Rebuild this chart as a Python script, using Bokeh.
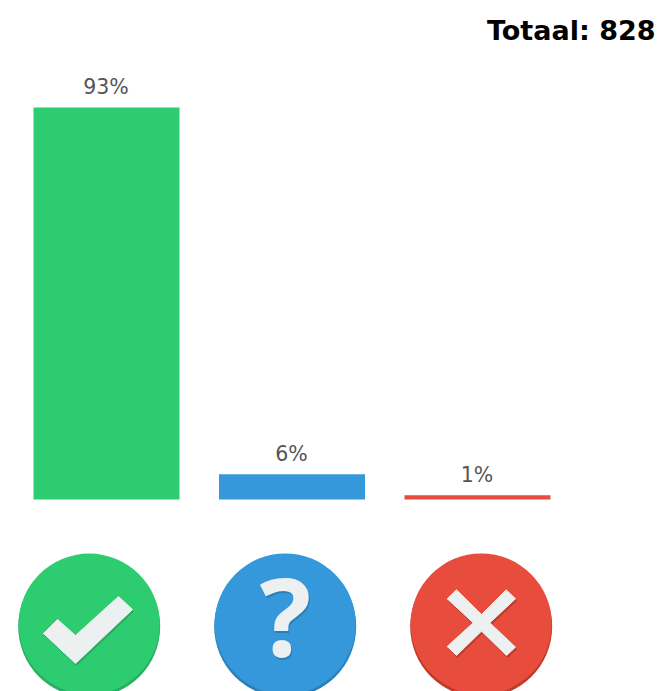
from bokeh.plotting import figure
from bokeh.models import Range1d
from bokeh.core.properties import value
from bokeh.embed import file_html
from bokeh.resources import INLINE

# --- data ---
categories = ["Ja", "Misschien", "Nee"]
percentages = [93, 6, 1]
labels = ["93%", "6%", "1%"]
colors = ["#2ecc71", "#3498db", "#e74c3c"]
total_label = "Totaal: 828"

W, H = 662, 691
PX_PER_PCT = 392 / 93
PX_PER_CAT = 185.5
BASE_Y = 499      # baseline, px from figure top
FIRST_X = 106     # first bar centre, px from figure left
BAR_W = 146 / PX_PER_CAT

p = figure(width=W, height=H, output_backend="svg", toolbar_location=None,
           x_range=Range1d(-FIRST_X / PX_PER_CAT, (W - FIRST_X) / PX_PER_CAT),
           y_range=Range1d(-(H - BASE_Y) / PX_PER_PCT, BASE_Y / PX_PER_PCT),
           min_border=0, min_border_left=0, min_border_right=0,
           min_border_top=0, min_border_bottom=0,
           outline_line_color=None, background_fill_color="white",
           border_fill_color="white")
p.axis.visible = False
p.grid.visible = False
p.extra_x_ranges["px"] = Range1d(0, W)
p.extra_y_ranges["px"] = Range1d(H, 0)

xs = list(range(len(categories)))
p.vbar(x=xs, top=percentages, bottom=0, width=BAR_W, color=colors, line_color=None)
p.text(x=xs, y=percentages, text=labels, text_font=value("DejaVu Sans"),
       text_font_size="20.5px", text_color="#555555", text_align="center",
       text_baseline="middle", x_offset=-0.5, y_offset=-20.5)

p.text(x=[655], y=[30], text=[total_label], x_range_name="px", y_range_name="px",
       text_font=value("DejaVu Sans"), text_font_style="bold", text_font_size="27px",
       text_color="#000000", text_align="right", text_baseline="middle")

# --- icons (screen-pixel coordinates) ---
icon_x = [88.7, 284.7, 480.7]
icon_y = 626
icon_r = 71
rims = ["#27ae60", "#2980b9", "#c0392b"]
OFF = "#ecf0f1"
for cx, col, rim in zip(icon_x, colors, rims):
    p.circle(x=[cx], y=[icon_y], radius=icon_r, fill_color=rim, line_color=None,
             x_range_name="px", y_range_name="px")
    p.circle(x=[cx], y=[icon_y - 2.5], radius=icon_r - 0.5, fill_color=col, line_color=None,
             x_range_name="px", y_range_name="px")

check_x = [43, 57, 75, 118, 132, 75]
check_y = [633, 619, 635, 596, 609, 663]
p.patch([v + 1 for v in check_x], [v + 2 for v in check_y], color="#27ae60",
        x_range_name="px", y_range_name="px")
p.patch(check_x, check_y, color=OFF, x_range_name="px", y_range_name="px")

QF = value("Open Sans")
p.text(x=[285 + 1], y=[615 + 2], text=["?"], x_range_name="px", y_range_name="px",
       text_font=QF, text_font_style="bold", text_font_size="108px",
       text_color="#2980b9", text_align="center", text_baseline="middle")
p.text(x=[285], y=[615], text=["?"], x_range_name="px", y_range_name="px",
       text_font=QF, text_font_style="bold", text_font_size="108px",
       text_color=OFF, text_align="center", text_baseline="middle")

zx = [155, 183, 258, 332, 360, 283, 360, 333, 258, 183, 155, 233]
zy = [175, 148, 222, 148, 175, 247, 320, 345, 272, 345, 318, 247]
cross_x = [395 + v / 3 for v in zx]
cross_y = [540 + v / 3 for v in zy]
p.patch([v + 1 for v in cross_x], [v + 2 for v in cross_y], color="#c0392b",
        x_range_name="px", y_range_name="px")
p.patch(cross_x, cross_y, color=OFF, x_range_name="px", y_range_name="px")

open("out.html", "w").write(file_html(p, INLINE))
